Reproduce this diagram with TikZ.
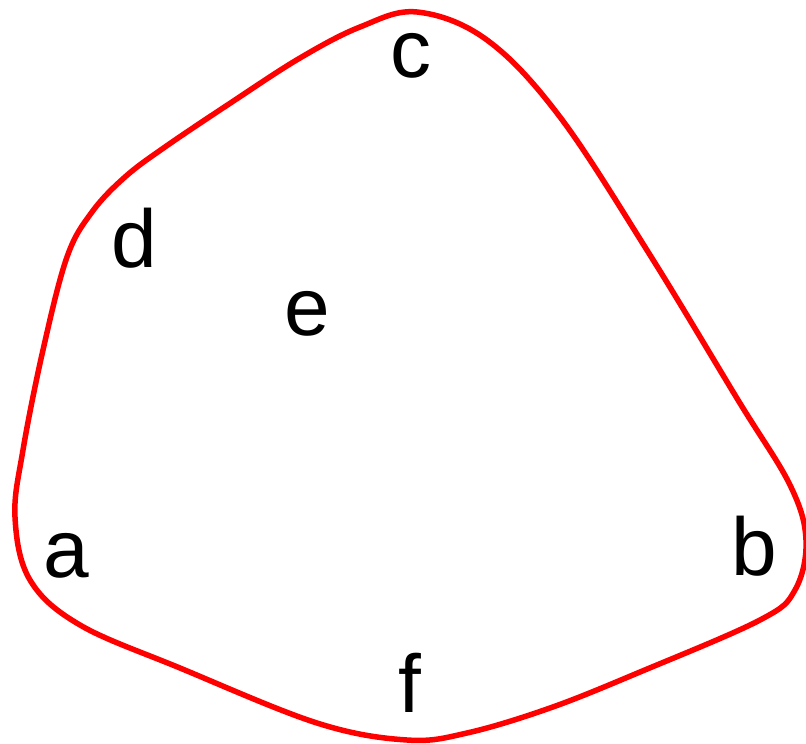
\documentclass[tikz,border=0pt]{standalone}
\usepackage{fontspec}
\setmainfont{Liberation Sans}
\usepackage{xcolor}
\usepackage{tikz}

\begin{document}
\begin{tikzpicture}[x=1pt,y=-1pt,font=\fontsize{82}{90}\selectfont,
  letter/.style={inner sep=0pt,anchor=base}]
\useasboundingbox (0,0) rectangle (806,744);
\draw[red,line width=5.5pt,smooth cycle,tension=0.6] plot coordinates {
  (417,12) (487,40) (560,117) (650,255) (738,400) (790,485) (806,540)
  (795,590) (760,620) (640,672) (550,708) (467,733) (407,740) (317,723)
  (180,668) (80,625) (30,580) (15,517) (23,450) (43,350) (67,257)
  (92,212) (125,177) (165,147) (232,102) (300,58) (360,27)};
\node[letter] (c) at (411,77) {c};
\node[letter] (d) at (134,267) {d};
\node[letter] (e) at (307,335) {e};
\node[letter] (a) at (66,577) {a};
\node[letter] (b) at (754,575) {b};
\node[letter] (f) at (410,712) {f};
\end{tikzpicture}
\end{document}
